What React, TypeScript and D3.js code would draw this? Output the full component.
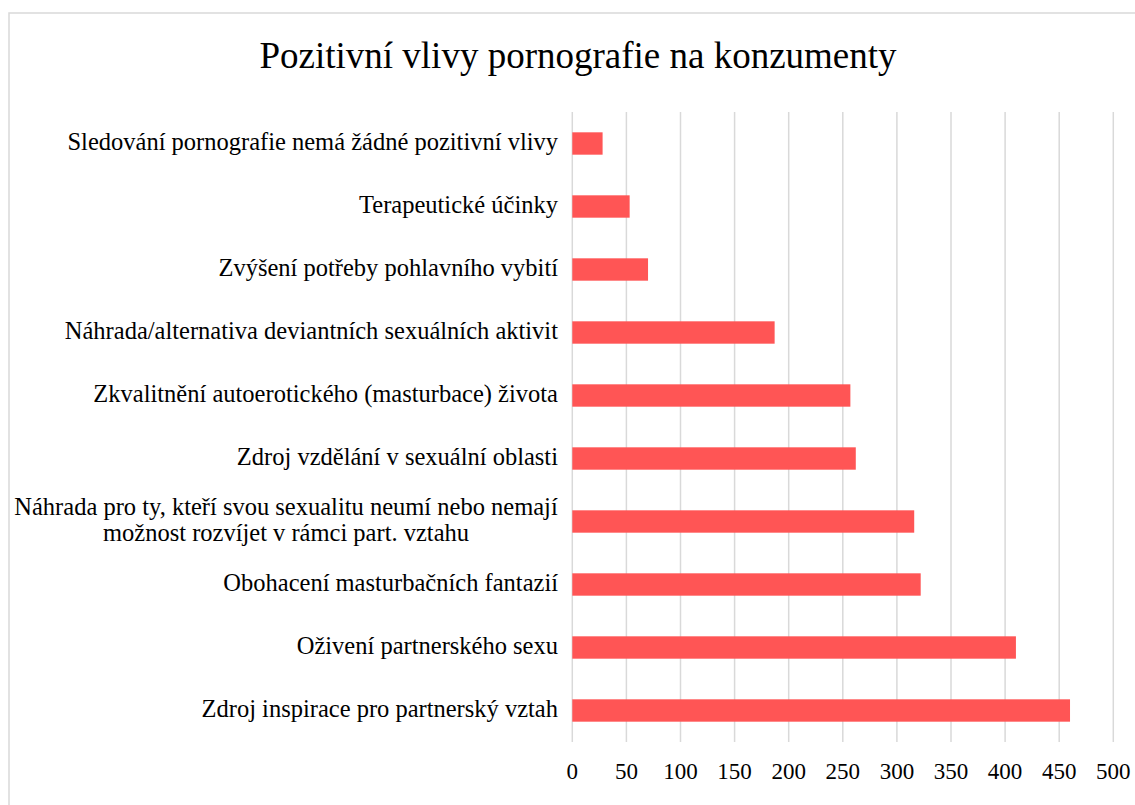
import React from "react";
import * as d3 from "d3";

const title = "Pozitivní vlivy pornografie na konzumenty";
const categories = [
  "Sledování pornografie nemá žádné pozitivní vlivy",
  "Terapeutické účinky",
  "Zvýšení potřeby pohlavního vybití",
  "Náhrada/alternativa deviantních sexuálních aktivit",
  "Zkvalitnění autoerotického (masturbace) života",
  "Zdroj vzdělání v sexuální oblasti",
  "Náhrada pro ty, kteří svou sexualitu neumí nebo nemají\nmožnost rozvíjet v rámci part. vztahu",
  "Obohacení masturbačních fantazií",
  "Oživení partnerského sexu",
  "Zdroj inspirace pro partnerský vztah",
];
const values = [28, 53, 70, 187, 257, 262, 316, 322, 410, 460];
const ticks = [0, 50, 100, 150, 200, 250, 300, 350, 400, 450, 500];

const W = 1135;
const H = 805;
const FONT = "'Liberation Serif', 'Times New Roman', serif";

export default function App() {
  const x = d3.scaleLinear().domain([0, 500]).range([572.3, 1113.3]);
  const y = d3
    .scaleBand<string>()
    .domain(categories)
    .range([112, 742])
    .paddingInner(0.645)
    .paddingOuter(0.3225);

  return (
    <svg
      width={W}
      height={H}
      style={{ position: "absolute", left: 0, top: 0, background: "#fff" }}
    >
      <rect x={9} y={13} width={W} height={H} fill="#fff" stroke="#d9d9d9" strokeWidth={1.5} />
      <text x={578} y={67.5} textAnchor="middle" fontFamily={FONT} fontSize={37} fill="#000">
        {title}
      </text>
      {ticks.map((t) => (
        <line key={"g" + t} x1={x(t)} x2={x(t)} y1={112} y2={742} stroke="#d9d9d9" strokeWidth={1.5} />
      ))}
      {categories.map((c, i) => (
        <rect
          key={"b" + i}
          x={x(0)}
          y={y(c)!}
          width={x(values[i]) - x(0)}
          height={y.bandwidth()}
          fill="#ff5555"
        />
      ))}
      {categories.map((c, i) => {
        const lines = c.split("\n");
        const cy = y(c)! + y.bandwidth() / 2;
        const lh = 26;
        if (lines.length === 1) {
          return (
            <text key={"l" + i} x={558} y={cy + 6.5} textAnchor="end" fontFamily={FONT} fontSize={24.5} fill="#000">
              {c}
            </text>
          );
        }
        const y0 = cy + 6.5 - ((lines.length - 1) * lh) / 2;
        return (
          <text key={"l" + i} x={286} y={y0} textAnchor="middle" fontFamily={FONT} fontSize={24.5} fill="#000">
            {lines.map((ln, j) => (
              <tspan key={j} x={286} y={y0 + j * lh}>
                {ln}
              </tspan>
            ))}
          </text>
        );
      })}
      {ticks.map((t) => (
        <text key={"t" + t} x={x(t)} y={779} textAnchor="middle" fontFamily={FONT} fontSize={23} fill="#000">
          {t}
        </text>
      ))}
    </svg>
  );
}
